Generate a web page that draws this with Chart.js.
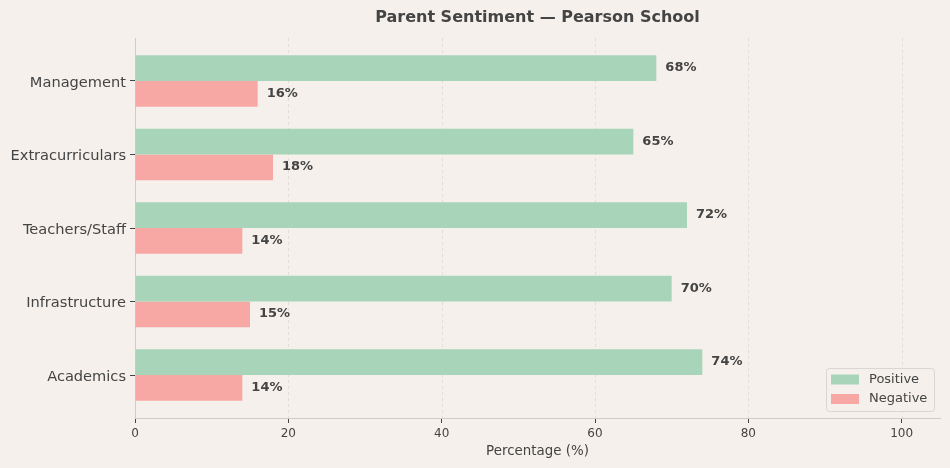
<!DOCTYPE html>
<html><head><meta charset="utf-8">
<script src="https://cdn.jsdelivr.net/npm/chart.js@4"></script>
<style>html,body{margin:0;padding:0;background:#f5f0eb;}#c{display:block;}</style>
</head><body>
<canvas id="c" width="950" height="468"></canvas>
<script>
const categories = ['Management', 'Extracurriculars', 'Teachers/Staff', 'Infrastructure', 'Academics'];
const positive = [68, 65, 72, 70, 74];
const negative = [16, 18, 14, 15, 14];
const seriesNames = ['Positive', 'Negative'];
const xTicks = [0, 20, 40, 60, 80, 100];
const titleText = 'Parent Sentiment \u2014 Pearson School';
const xTitle = 'Percentage (%)';

const FONT = "'DejaVu Sans', sans-serif";
const TEXT = '#444444';
const GREEN = '#a8d5ba';
const RED = '#f7a8a5';

const toPts = arr => arr.map((v, i) => ({x: v, y: i}));

const bgPlugin = {
  id: 'bg',
  beforeDraw(chart) {
    const c = chart.ctx;
    c.save(); c.fillStyle = '#f5f0eb'; c.fillRect(0, 0, chart.width, chart.height); c.restore();
  }
};

const gridPlugin = {
  id: 'dashgrid',
  beforeDatasetsDraw(chart) {
    const c = chart.ctx, x = chart.scales.x, a = chart.chartArea;
    c.save();
    c.strokeStyle = 'rgba(0,0,0,0.08)';
    c.lineWidth = 1;
    c.setLineDash([3, 3]);
    xTicks.forEach(t => {
      if (t === 0) return;
      const px = Math.round(x.getPixelForValue(t)) + 0.5;
      c.beginPath(); c.moveTo(px, a.top); c.lineTo(px, a.bottom); c.stroke();
    });
    c.restore();
  }
};

const labelPlugin = {
  id: 'vlabels',
  afterDatasetsDraw(chart) {
    const c = chart.ctx;
    c.save();
    c.font = "bold 13px " + FONT;
    c.fillStyle = TEXT;
    c.textAlign = 'left';
    c.textBaseline = 'middle';
    chart.data.datasets.forEach((ds, di) => {
      chart.getDatasetMeta(di).data.forEach((bar, i) => {
        c.fillText(ds.data[i].x + '%', bar.x + 9, bar.y - 0.5);
      });
    });
    c.restore();
  }
};

const titlePlugin = {
  id: 'ctitle',
  afterDraw(chart) {
    const c = chart.ctx, a = chart.chartArea;
    c.save();
    c.font = "bold 16px " + FONT;
    c.fillStyle = TEXT;
    c.textAlign = 'center';
    c.textBaseline = 'middle';
    c.fillText(titleText, (a.left + a.right) / 2, 17.5);
    c.restore();
  }
};

const legendPlugin = {
  id: 'clegend',
  afterDraw(chart) {
    const c = chart.ctx, a = chart.chartArea;
    const w = 108, h = 43;
    const x0 = a.right - 6 - w, y0 = a.bottom - 7 - h;
    c.save();
    c.fillStyle = 'rgba(245,240,235,0.85)';
    c.strokeStyle = '#d9d5d0';
    c.lineWidth = 1;
    c.beginPath();
    c.roundRect(x0 + 0.5, y0 + 0.5, w, h, 3);
    c.fill(); c.stroke();
    c.font = "13px " + FONT;
    c.textBaseline = 'middle';
    c.textAlign = 'left';
    chart.data.datasets.forEach((ds, i) => {
      const cy = y0 + 11.5 + i * 19.5;
      c.fillStyle = ds.backgroundColor;
      c.fillRect(x0 + 5, cy - 5, 28, 10);
      c.fillStyle = TEXT;
      c.fillText(ds.label, x0 + 43, cy);
    });
    c.restore();
  }
};

new Chart(document.getElementById('c'), {
  type: 'bar',
  data: {
    datasets: [
      {label: seriesNames[0], data: toPts(positive), backgroundColor: GREEN},
      {label: seriesNames[1], data: toPts(negative), backgroundColor: RED}
    ]
  },
  options: {
    indexAxis: 'y',
    responsive: false,
    devicePixelRatio: 1,
    animation: false,
    categoryPercentage: 0.7,
    barPercentage: 1.0,
    layout: {padding: {top: 38, right: 10, left: 0, bottom: 0}},
    plugins: {legend: {display: false}, title: {display: false}, tooltip: {enabled: false}},
    scales: {
      x: {
        type: 'linear', min: 0, max: 105,
        afterBuildTicks: s => { s.ticks = xTicks.map(v => ({value: v})); },
        afterFit: s => { s.height = 50; },
        grid: {drawOnChartArea: false, drawTicks: true, tickLength: 5, tickColor: TEXT, tickWidth: 1},
        border: {display: true, color: '#cccccc', width: 1},
        ticks: {color: TEXT, font: {family: FONT, size: 12}, padding: 4, maxRotation: 0},
        title: {display: true, text: xTitle, color: TEXT, font: {family: FONT, size: 13.4}, padding: {top: 0, bottom: 8}}
      },
      y: {
        type: 'linear', min: -0.585, max: 4.585, reverse: true, offset: false,
        afterBuildTicks: s => { s.ticks = categories.map((_, i) => ({value: i})); },
        afterFit: s => { s.width = 135; },
        grid: {offset: false, drawOnChartArea: false, drawTicks: true, tickLength: 5, tickColor: TEXT, tickWidth: 1},
        border: {display: true, color: '#cccccc', width: 1},
        ticks: {color: TEXT, font: {family: FONT, size: 14.6}, padding: 4, labelOffset: 2,
                callback: v => categories[v]}
      }
    }
  },
  plugins: [bgPlugin, gridPlugin, labelPlugin, titlePlugin, legendPlugin]
});
</script>
</body></html>
